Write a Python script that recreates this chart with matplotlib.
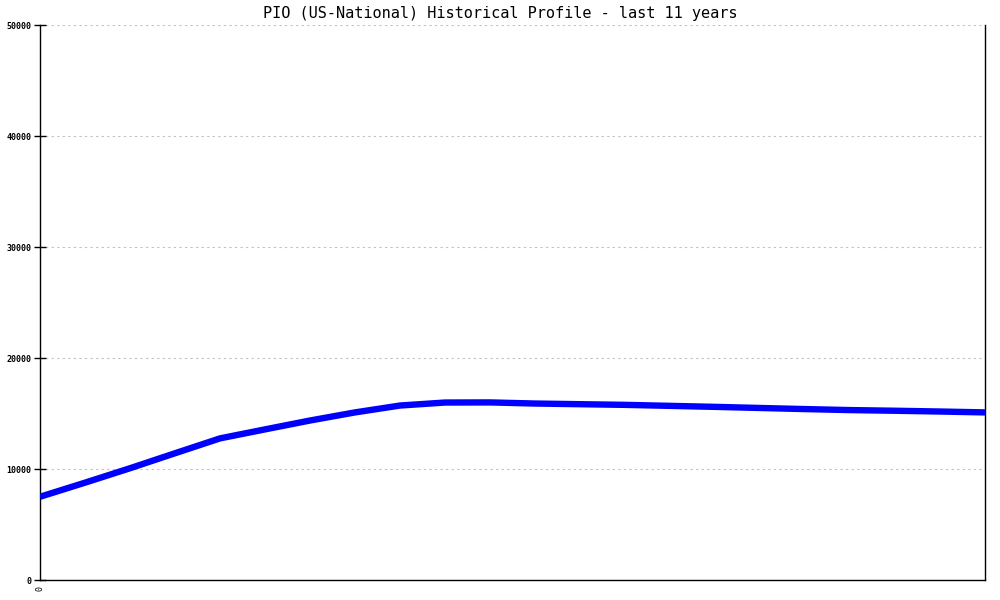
import matplotlib
matplotlib.use("Agg")
from matplotlib import pyplot as plt

# values, evenly spaced over the 11 years
pio_values = [7500, 8770, 10070, 11420, 12760, 13570, 14370, 15100, 15720, 15990, 16000,
              15900, 15840, 15780, 15690, 15600, 15500, 15400, 15310, 15250, 15180, 15100]
y_ticks = [0, 10000, 20000, 30000, 40000, 50000]
x_tick_labels = ["0"]
title = "PIO (US-National) Historical Profile - last 11 years"

x = list(range(len(pio_values)))

fig = plt.figure(figsize=(10, 6), dpi=100)
ax = fig.add_axes([0.04, 0.0333, 0.945, 0.925])

ax.plot(x, pio_values, color="#0000ff", linewidth=4.6, solid_capstyle="butt", zorder=3)

ax.set_xlim(0, len(pio_values) - 1)
ax.set_ylim(0, 50000)

ax.set_yticks(y_ticks)
ax.set_yticklabels([str(v) for v in y_ticks], fontsize=6, family="DejaVu Sans Mono",
                   fontweight="bold")
ax.set_xticks([0])
ax.set_xticklabels(x_tick_labels, fontsize=6, family="DejaVu Sans Mono", rotation=90)

ax.tick_params(axis="y", direction="inout", length=8, width=1, pad=2)
ax.tick_params(axis="x", length=0, pad=4)

ax.grid(axis="y", color="#c0c0c0", linestyle=(0, (2, 3)), linewidth=0.8)
ax.set_axisbelow(True)

ax.spines["top"].set_visible(False)
for side in ["left", "bottom", "right"]:
    ax.spines[side].set_color("black")
    ax.spines[side].set_linewidth(1)

fig.text(0.5, 0.978, title, ha="center", va="center", fontsize=11,
         family="DejaVu Sans Mono")

fig.savefig("out.png", dpi=100)
